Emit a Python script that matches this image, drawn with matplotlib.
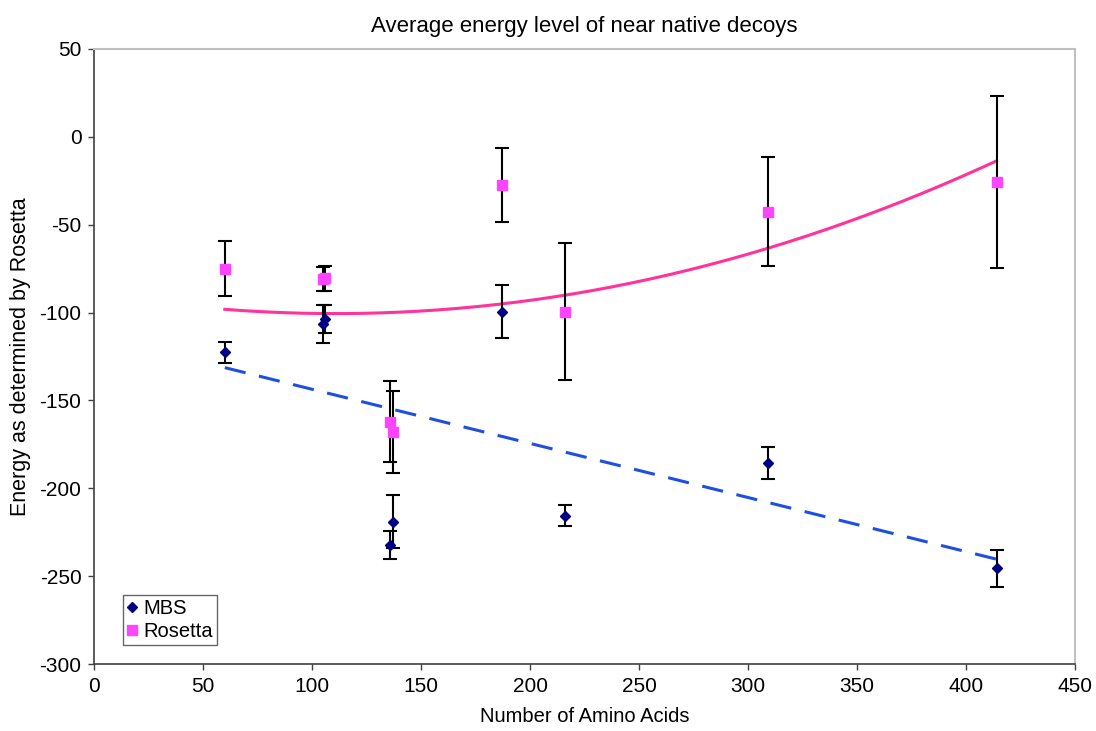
import numpy as np
import matplotlib
matplotlib.use("Agg")
import matplotlib.pyplot as plt

plt.rcParams['font.family'] = ['Liberation Sans', 'DejaVu Sans']
plt.rcParams['axes.unicode_minus'] = False

# Data
mbs_x = [60, 105, 106, 136, 137, 187, 216, 309, 414]
mbs_y = [-122.5, -106.5, -103.5, -232.5, -219, -99.5, -215.5, -185.5, -245.5]
mbs_err = [6, 11, 8, 8, 15, 15, 6, 9, 10.5]

ros_x = [60, 105, 106, 136, 137, 187, 216, 309, 414]
ros_y = [-75, -81, -80.5, -162, -168, -27.5, -99.5, -42.5, -25.5]
ros_err = [15.5, 7, 7, 23, 23.5, 21, 39, 31, 49]

title = "Average energy level of near native decoys"
xlabel = "Number of Amino Acids"
ylabel = "Energy as determined by Rosetta"
xticks = [0, 50, 100, 150, 200, 250, 300, 350, 400, 450]
yticks = [50, 0, -50, -100, -150, -200, -250, -300]

fig = plt.figure(figsize=(10.96, 7.31), dpi=100)
ax = fig.add_axes([94/1096, 1-664/731, (1075-94)/1096, (664-49)/731])

# Trendlines
xs = np.linspace(min(mbs_x), max(mbs_x), 200)
lin = np.polyfit(mbs_x, mbs_y, 1)
ax.plot(xs, np.polyval(lin, xs), color='#1F4FE0', lw=2.2, dashes=(7, 4.5), zorder=2)
quad = np.polyfit(ros_x, ros_y, 2)
ax.plot(xs, np.polyval(quad, xs), color='#FF3399', lw=2.2, zorder=2)

# Error bars
ax.errorbar(mbs_x, mbs_y, yerr=mbs_err, fmt='none', ecolor='black', elinewidth=1.5,
            capsize=5, capthick=1.5, zorder=3)
ax.errorbar(ros_x, ros_y, yerr=ros_err, fmt='none', ecolor='black', elinewidth=1.5,
            capsize=5, capthick=1.5, zorder=3)

ax.plot(mbs_x, mbs_y, linestyle='none', marker='D', color='#000080', markersize=5.5,
        label='MBS', zorder=4)
ax.plot(ros_x, ros_y, linestyle='none', marker='s', color='#FF44FF', markersize=7,
        label='Rosetta', zorder=4)

ax.set_xlim(0, 450)
ax.set_ylim(-300, 50)
ax.set_xticks(xticks)
ax.set_yticks(yticks)
ax.tick_params(labelsize=15, length=4, width=1, color='#404040', pad=5)

for s in ['top', 'right']:
    ax.spines[s].set_color('#C0C0C0')
    ax.spines[s].set_linewidth(1.5)
for s in ['left', 'bottom']:
    ax.spines[s].set_color('#404040')
    ax.spines[s].set_linewidth(1.2)

ax.set_title(title, fontsize=16, pad=12)
ax.set_xlabel(xlabel, fontsize=14.5, labelpad=8)
ax.set_ylabel(ylabel, fontsize=15.5, labelpad=6)

leg = ax.legend(loc='lower left', bbox_to_anchor=(29/981, 19/615), fontsize=14.5,
                frameon=True, fancybox=False, edgecolor='#404040', handlelength=0.5,
                handletextpad=0.3, borderpad=0.2, labelspacing=0.2, borderaxespad=0)
leg.get_frame().set_linewidth(1.0)

fig.savefig('out.png', dpi=100)
